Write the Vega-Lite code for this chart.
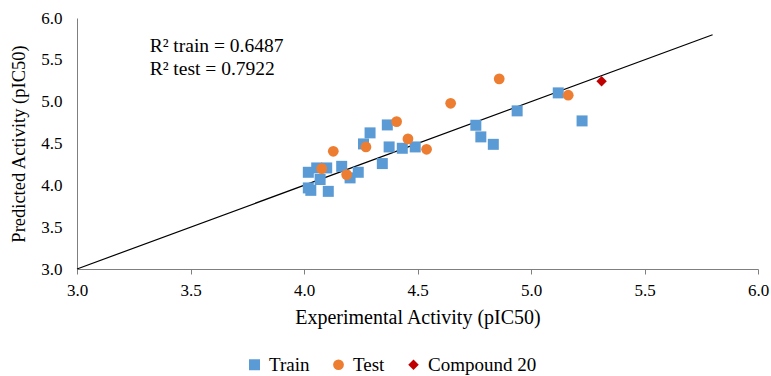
{
  "$schema": "https://vega.github.io/schema/vega-lite/v6.json",
  "autosize": "none",
  "width": 681,
  "height": 251,
  "padding": {"left": 77, "top": 18, "right": 13, "bottom": 107},
  "background": "white",
  "config": {
    "view": {"stroke": null},
    "font": "Liberation Serif",
    "axis": {
      "grid": false,
      "domainColor": "#7f7f7f",
      "tickColor": "#7f7f7f",
      "labelFont": "Liberation Serif",
      "titleFont": "Liberation Serif",
      "labelFontSize": 17,
      "labelColor": "#000000",
      "titleColor": "#000000",
      "titleFontWeight": "normal"
    },
    "legend": {
      "labelFont": "Liberation Serif",
      "labelFontSize": 19,
      "labelColor": "#000000"
    }
  },
  "datasets": {
    "points": [
      {"series": "Train", "exp": 4.019, "pred": 4.156},
      {"series": "Train", "exp": 4.056, "pred": 4.208},
      {"series": "Train", "exp": 4.100, "pred": 4.208},
      {"series": "Train", "exp": 4.166, "pred": 4.227},
      {"series": "Train", "exp": 4.071, "pred": 4.070},
      {"series": "Train", "exp": 4.019, "pred": 3.969},
      {"series": "Train", "exp": 4.030, "pred": 3.940},
      {"series": "Train", "exp": 4.107, "pred": 3.928},
      {"series": "Train", "exp": 4.239, "pred": 4.156},
      {"series": "Train", "exp": 4.203, "pred": 4.089},
      {"series": "Train", "exp": 4.262, "pred": 4.495},
      {"series": "Train", "exp": 4.291, "pred": 4.627},
      {"series": "Train", "exp": 4.345, "pred": 4.260},
      {"series": "Train", "exp": 4.367, "pred": 4.722},
      {"series": "Train", "exp": 4.375, "pred": 4.459},
      {"series": "Train", "exp": 4.433, "pred": 4.443},
      {"series": "Train", "exp": 4.490, "pred": 4.459},
      {"series": "Train", "exp": 4.757, "pred": 4.718},
      {"series": "Train", "exp": 4.779, "pred": 4.579},
      {"series": "Train", "exp": 4.834, "pred": 4.490},
      {"series": "Train", "exp": 4.939, "pred": 4.890},
      {"series": "Train", "exp": 5.120, "pred": 5.105},
      {"series": "Train", "exp": 5.225, "pred": 4.770},
      {"series": "Test", "exp": 4.078, "pred": 4.200},
      {"series": "Test", "exp": 4.129, "pred": 4.407},
      {"series": "Test", "exp": 4.188, "pred": 4.128},
      {"series": "Test", "exp": 4.273, "pred": 4.459},
      {"series": "Test", "exp": 4.408, "pred": 4.762},
      {"series": "Test", "exp": 4.458, "pred": 4.555},
      {"series": "Test", "exp": 4.540, "pred": 4.431},
      {"series": "Test", "exp": 4.646, "pred": 4.981},
      {"series": "Test", "exp": 4.860, "pred": 5.273},
      {"series": "Test", "exp": 5.164, "pred": 5.077},
      {"series": "Compound 20", "exp": 5.311, "pred": 5.244}
    ],
    "line": [
      {"exp": 3.0, "pred": 3.0},
      {"exp": 5.8, "pred": 5.8}
    ],
    "notes": [
      {"exp": 3.32, "pred": 5.66, "label": "R² train = 0.6487"},
      {"exp": 3.32, "pred": 5.385, "label": "R² test = 0.7922"}
    ]
  },
  "layer": [
    {
      "data": {"name": "line"},
      "mark": {"type": "line", "color": "#000000", "strokeWidth": 1.2},
      "encoding": {
        "x": {"field": "exp", "type": "quantitative"},
        "y": {"field": "pred", "type": "quantitative"}
      }
    },
    {
      "data": {"name": "points"},
      "mark": {"type": "point", "filled": true, "opacity": 1},
      "encoding": {
        "x": {
          "field": "exp", "type": "quantitative",
          "scale": {"domain": [3, 6], "nice": false, "zero": false},
          "axis": {"title": "Experimental Activity (pIC50)", "titleFontSize": 20, "labelFont": "Liberation Serif", "titleFont": "Liberation Serif", "values": [3, 3.5, 4, 4.5, 5, 5.5, 6], "format": ".1f", "tickSize": 5, "labelPadding": 8, "titlePadding": 9, "labelFlush": false}
        },
        "y": {
          "field": "pred", "type": "quantitative",
          "scale": {"domain": [3, 6], "nice": false, "zero": false},
          "axis": {"title": "Predicted Activity (pIC50)", "titleFontSize": 18.5, "labelFont": "Liberation Serif", "titleFont": "Liberation Serif", "values": [3, 3.5, 4, 4.5, 5, 5.5, 6], "format": ".1f", "ticks": false, "labelPadding": 15, "titlePadding": 12, "labelFlush": false}
        },
        "color": {
          "field": "series", "type": "nominal",
          "scale": {"domain": ["Train", "Test", "Compound 20"], "range": ["#5B9BD5", "#ED7D31", "#C00000"]},
          "legend": {"title": null, "orient": "none", "direction": "horizontal", "legendX": 168, "legendY": 337, "symbolSize": 64, "columnPadding": 19, "labelOffset": 5, "labelFont": "Liberation Serif"}
        },
        "shape": {
          "field": "series", "type": "nominal",
          "scale": {"domain": ["Train", "Test", "Compound 20"], "range": ["square", "circle", "diamond"]},
          "legend": {"title": null, "orient": "none", "direction": "horizontal", "legendX": 168, "legendY": 337, "symbolSize": 64, "columnPadding": 19, "labelOffset": 5, "labelFont": "Liberation Serif"}
        },
        "size": {
          "field": "series", "type": "nominal",
          "scale": {"domain": ["Train", "Test", "Compound 20"], "range": [121, 110, 55]},
          "legend": null
        },
        "order": {"field": "series", "sort": "descending"}
      }
    },
    {
      "data": {"name": "notes"},
      "mark": {"type": "text", "align": "left", "baseline": "middle", "fontSize": 19.5, "font": "Liberation Serif", "color": "#000000"},
      "encoding": {
        "x": {"field": "exp", "type": "quantitative"},
        "y": {"field": "pred", "type": "quantitative"},
        "text": {"field": "label"}
      }
    }
  ]
}
